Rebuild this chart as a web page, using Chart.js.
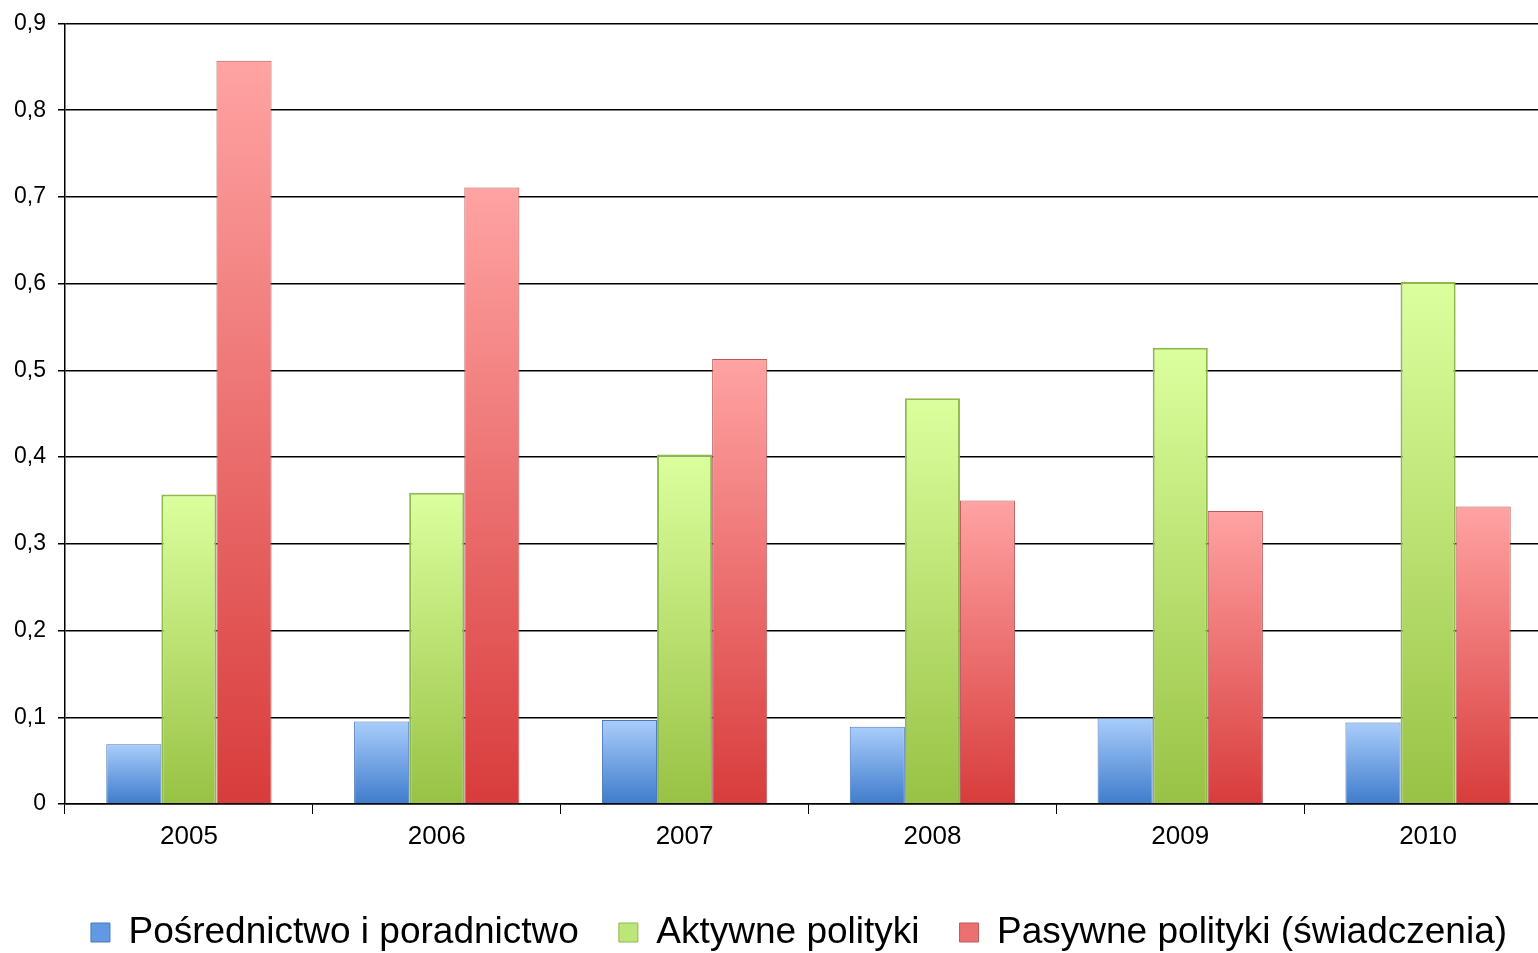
<!DOCTYPE html>
<html>
<head>
<meta charset="utf-8">
<script src="https://cdn.jsdelivr.net/npm/chart.js@4/dist/chart.umd.min.js"></script>
<style>
  html, body { margin: 0; padding: 0; background: #fff; overflow: hidden; }
  #wrap { width: 1552px; height: 953px; }
</style>
</head>
<body>
<div id="wrap"><canvas id="chart"></canvas></div>
<script>
const years = ["2005", "2006", "2007", "2008", "2009", "2010"];
const posrednictwo = [0.069, 0.095, 0.097, 0.089, 0.099, 0.094];
const aktywne = [0.357, 0.359, 0.403, 0.468, 0.526, 0.602];
const pasywne = [0.857, 0.711, 0.513, 0.350, 0.338, 0.343];
const yTicks = [0, 0.1, 0.2, 0.3, 0.4, 0.5, 0.6, 0.7, 0.8, 0.9];

// gradient per bar, light on top, dark at the base
function barGradient(top, bottom) {
    return function (ctx) {
        const chart = ctx.chart;
        if (!chart.chartArea || ctx.type !== "data") return bottom;
        const y = chart.scales.y;
        const y0 = y.getPixelForValue(ctx.raw);
        const y1 = y.getPixelForValue(0);
        const g = chart.ctx.createLinearGradient(0, y0, 0, y1);
        g.addColorStop(0, top);
        g.addColorStop(1, bottom);
        return g;
    };
}

const font = "'Liberation Sans', Arial, sans-serif";

// legend sits a bit lower and more to the right than chart.js puts it
const legendShift = {
    id: "legendShift",
    beforeLayout(chart) {
        const lg = chart.legend;
        if (lg && !lg._shifted) {
            const fit = lg.fit;
            lg.fit = function () {
                fit.call(this);
                this.height -= 8;
            };
            const draw = lg.draw;
            lg.draw = function () {
                this.ctx.save();
                this.ctx.translate(23, 0);
                draw.call(this);
                this.ctx.restore();
            };
            lg._shifted = true;
        }
    }
};

new Chart(document.getElementById("chart"), {
    type: "bar",
    data: {
        labels: years,
        datasets: [
            {
                label: "Pośrednictwo i poradnictwo",
                data: posrednictwo,
                backgroundColor: barGradient("#a9cdfb", "#3f7ccc"),
                borderColor: "#4a78b8",
                borderWidth: 1
            },
            {
                label: "Aktywne polityki",
                data: aktywne,
                backgroundColor: barGradient("#dcff9e", "#98c245"),
                borderColor: "#8fb94c",
                borderWidth: 2
            },
            {
                label: "Pasywne polityki (świadczenia)",
                data: pasywne,
                backgroundColor: barGradient("#ffa3a3", "#d83c3c"),
                borderColor: "#b85a5a",
                borderWidth: 1
            }
        ]
    },
    options: {
        responsive: true,
        maintainAspectRatio: false,
        animation: false,
        layout: { padding: { top: 21, left: 0, right: 0, bottom: 0 } },
        datasets: {
            bar: { categoryPercentage: 0.667, barPercentage: 1.0 }
        },
        scales: {
            x: {
                grid: {
                    offset: true,
                    drawOnChartArea: false,
                    drawTicks: true,
                    tickLength: 10,
                    color: "#000"
                },
                border: { color: "#000", width: 1.5 },
                ticks: {
                    color: "#000",
                    font: { family: font, size: 26 },
                    padding: 7
                },
                afterFit: s => { s.height = 70; }
            },
            y: {
                min: 0,
                max: 0.9,
                afterBuildTicks: s => { s.ticks = yTicks.map(v => ({ value: v })); },
                grid: {
                    color: "#000",
                    lineWidth: 1.5,
                    tickLength: 7
                },
                border: { color: "#000", width: 1.5 },
                ticks: {
                    color: "#000",
                    font: { family: font, size: 23, lineHeight: 1 },
                    padding: 12,
                    callback: v => v === 0 ? "0" : v.toFixed(1).replace(".", ",")
                },
                afterFit: s => { s.width = 65; }
            }
        },
        plugins: {
            tooltip: { enabled: false },
            legend: {
                position: "bottom",
                labels: {
                    color: "#000",
                    font: { family: font, size: 37 },
                    boxWidth: 19,
                    boxHeight: 19,
                    padding: 40,
                    generateLabels: chart => chart.data.datasets.map((ds, i) => ({
                        text: ds.label,
                        fillStyle: ["#6199e2", "#bce57a", "#ec7070"][i],
                        strokeStyle: ["#4a78b8", "#8fb94c", "#b85a5a"][i],
                        lineWidth: 1,
                        datasetIndex: i
                    }))
                }
            }
        }
    },
    plugins: [legendShift]
});
</script>
</body>
</html>
